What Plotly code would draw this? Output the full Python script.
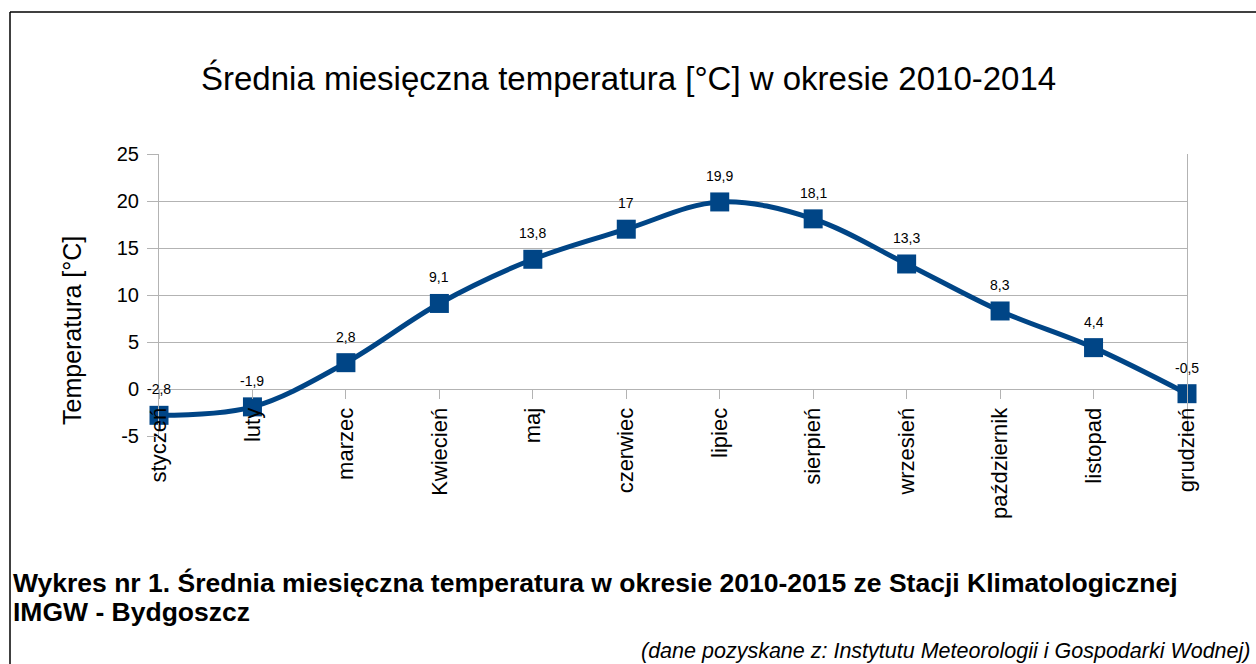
import plotly.graph_objects as go

months = ["styczeń", "luty", "marzec", "Kwiecień", "maj", "czerwiec",
          "lipiec", "sierpień", "wrzesień", "październik", "listopad", "grudzień"]
temps = [-2.8, -1.9, 2.8, 9.1, 13.8, 17, 19.9, 18.1, 13.3, 8.3, 4.4, -0.5]
ytick_vals = [-5, 0, 5, 10, 15, 20, 25]
ytick_text = ["-5", "0", "5", "10", "15", "20", "25"]

W, H = 1256, 664
L, R, T, B = 159, 1187, 154, 436
FONT = "Liberation Sans, Arial, sans-serif"
BLUE = "#004586"
GRID = "#b3b3b3"


def px(x):
    return (x - L) / (R - L)


def py(y):
    return (B - y) / (B - T)


def fmt(v):
    return ("%g" % v).replace(".", ",")


fig = go.Figure()
fig.add_trace(go.Scatter(
    x=months, y=temps, mode="lines+markers",
    line=dict(color=BLUE, width=5, shape="spline", smoothing=1.0),
    marker=dict(symbol="square", size=19, color=BLUE),
    cliponaxis=False, showlegend=False, hoverinfo="skip",
))

annotations = [
    dict(x=m, y=v, text=fmt(v), showarrow=False, yshift=26,
         font=dict(size=14, color="black", family=FONT))
    for m, v in zip(months, temps)
]

annotations += [
    dict(text="Średnia miesięczna temperatura [°C] w okresie 2010-2014",
         xref="paper", yref="paper", x=px(628), y=py(78), showarrow=False,
         font=dict(size=33, color="black", family=FONT), xanchor="center", yanchor="middle"),
    dict(text="Temperatura [°C]", textangle=-90,
         xref="paper", yref="paper", x=px(72), y=py(331), showarrow=False,
         font=dict(size=25, color="black", family=FONT), xanchor="center", yanchor="middle"),
    dict(text="<b>Wykres nr 1. Średnia miesięczna temperatura w okresie 2010-2015 ze Stacji Klimatologicznej</b>",
         xref="paper", yref="paper", x=px(11), y=py(583), showarrow=False, align="left",
         font=dict(size=26.5, color="black", family=FONT), xanchor="left", yanchor="middle"),
    dict(text="<b>IMGW - Bydgoszcz</b>",
         xref="paper", yref="paper", x=px(11), y=py(612), showarrow=False, align="left",
         font=dict(size=26.5, color="black", family=FONT), xanchor="left", yanchor="middle"),
    dict(text="<i>(dane pozyskane z: Instytutu Meteorologii i Gospodarki Wodnej)</i>",
         xref="paper", yref="paper", x=px(1252), y=py(651), showarrow=False, align="right",
         font=dict(size=21.5, color="black", family=FONT), xanchor="right", yanchor="middle"),
]

shapes = [
    dict(type="line", xref="paper", yref="paper", x0=px(10), y0=py(670), x1=px(10), y1=py(12),
         line=dict(color="black", width=1.5)),
    dict(type="line", xref="paper", yref="paper", x0=px(10), y0=py(12), x1=px(1262), y1=py(12),
         line=dict(color="black", width=1.5)),
]

fig.update_layout(
    width=W, height=H,
    margin=dict(l=L, r=W - R, t=T, b=H - B, pad=0),
    paper_bgcolor="white", plot_bgcolor="white",
    font=dict(family=FONT, color="black"),
    annotations=annotations, shapes=shapes,
    xaxis=dict(
        type="category", range=[0, len(months) - 1],
        anchor="free", position=5 / 30,
        tickangle=-90, tickfont=dict(size=22, color="black", family=FONT),
        ticks="outside", ticklen=9, tickcolor=GRID, tickwidth=1,
        showgrid=False, showline=False, zeroline=False,
    ),
    yaxis=dict(
        range=[-5, 25], tickvals=ytick_vals, ticktext=ytick_text,
        tickfont=dict(size=20, color="black", family=FONT),
        ticks="outside", ticklen=11, tickcolor=GRID, tickwidth=1,
        showgrid=True, gridcolor=GRID, gridwidth=1,
        showline=True, linecolor=GRID, linewidth=1, mirror=True,
        zeroline=False, ticklabelstandoff=4,
    ),
)

fig.write_html("out.html", config={"displayModeBar": False},
               post_script="document.body.style.margin='0';")
